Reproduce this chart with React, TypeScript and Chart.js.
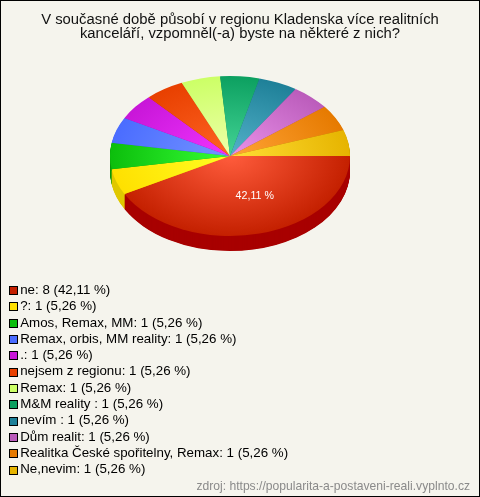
import React, { useEffect, useRef } from "react";
import { Chart, registerables } from "chart.js";

Chart.register(...registerables);

const titleLines = [
  "V současné době působí v regionu Kladenska více realitních",
  "kanceláří, vzpomněl(-a) byste na některé z nich?",
];
const sourceText = "zdroj: https://popularita-a-postaveni-reali.vyplnto.cz";
const categories = [
  "ne", "?", "Amos, Remax, MM", "Remax, orbis, MM reality", ".", "nejsem z regionu",
  "Remax", "M&M reality ", "nevím ", "Dům realit", "Realitka České spořitelny, Remax", "Ne,nevim",
];
const values = [8, 1, 1, 1, 1, 1, 1, 1, 1, 1, 1, 1];
const percents = ["42,11", "5,26", "5,26", "5,26", "5,26", "5,26", "5,26", "5,26", "5,26", "5,26", "5,26", "5,26"];
const edgeColors = [
  "#C42000", "#FFE000", "#0CBE0C", "#4A6CFF", "#C816D8", "#E84000",
  "#CCFF66", "#0CA060", "#1E8098", "#BB5CBB", "#E67A00", "#E6B400",
];
const innerColors = [
  "#FF5C3C", "#FFFF22", "#36FF36", "#7494FF", "#F034FF", "#FF6424",
  "#EEFFAA", "#44D496", "#54B2CA", "#EA92EA", "#FFA436", "#FFDE36",
];
const sideColors = [
  "#A80000", "#E0C800", "#0A9A0A", "#3A55CC", "#A012AC", "#BA3300",
  "#A3CC52", "#0A804D", "#18667A", "#964A96", "#B86200", "#B89000",
];

const PAGE_BG = "#F5F4ED";
const SQUASH = 2 / 3;
const DEPTH = 15;

const piePlugin = {
  id: "tiltedPie",
  beforeDraw(chart: any) {
    const { ctx, width, height } = chart;
    ctx.save();
    ctx.fillStyle = PAGE_BG;
    ctx.fillRect(0, 0, width, height);
    ctx.strokeStyle = "#000";
    ctx.lineWidth = 1;
    ctx.strokeRect(0.5, 0.5, width - 1, height - 1);
    ctx.restore();
  },
  afterLayout(chart: any) {
    const area = chart.chartArea;
    area.left = 110;
    area.right = 350;
    area.top = 36;
    area.bottom = 276;
    area.width = 240;
    area.height = 240;
    const legend = chart.legend;
    legend.left = 6.5;
    legend.top = 280.5;
    legend.right = 306.5;
    legend.bottom = 480.5;
    legend.adjustHitBoxes();
    const source = chart.boxes.find((b: any) => b.options && b.options.text === sourceText);
    if (source) {
      source.right = 470;
      source.top += 1;
      source.bottom += 1;
    }
  },
  beforeDatasetsDraw(chart: any) {
    const { ctx } = chart;
    const arcs = chart.getDatasetMeta(0).data;
    const cx = arcs[0].x;
    const cy = arcs[0].y;
    ctx.save();
    ctx.translate(cx, cy);
    ctx.scale(1, SQUASH);
    ctx.translate(-cx, -cy);
    for (let d = DEPTH; d >= 1; d -= 0.5) {
      arcs.forEach((arc: any, i: number) => {
        ctx.beginPath();
        ctx.moveTo(arc.x, arc.y + d / SQUASH);
        ctx.arc(arc.x, arc.y + d / SQUASH, arc.outerRadius, arc.startAngle, arc.endAngle);
        ctx.closePath();
        ctx.fillStyle = sideColors[i];
        ctx.fill();
      });
    }
  },
  afterDatasetsDraw(chart: any) {
    const { ctx } = chart;
    ctx.restore();
    const arcs = chart.getDatasetMeta(0).data;
    const total = values.reduce((a, b) => a + b, 0);
    ctx.save();
    ctx.fillStyle = "#FFFFFF";
    ctx.font = "10.67px 'Liberation Sans'";
    ctx.textAlign = "center";
    ctx.textBaseline = "middle";
    arcs.forEach((arc: any, i: number) => {
      if (values[i] / total < 0.1) return;
      const mid = (arc.startAngle + arc.endAngle) / 2;
      const r = arc.outerRadius / 2;
      const x = arc.x + Math.cos(mid) * r + 10;
      const y = arc.y + Math.sin(mid) * r * SQUASH + 1;
      ctx.fillText(`${percents[i]} %`, x, y);
    });
    ctx.restore();
  },
  afterDraw(chart: any) {
    const { ctx } = chart;
    const boxes = chart.legend.legendHitBoxes;
    ctx.save();
    ctx.strokeStyle = "#000";
    ctx.lineWidth = 1;
    boxes.forEach((box: any, i: number) => {
      const x = 9.5;
      const y = Math.round(box.top + 6.5 - 4) + 0.5;
      ctx.fillStyle = edgeColors[i];
      ctx.fillRect(x, y, 8, 8);
      ctx.strokeRect(x, y, 8, 8);
    });
    ctx.restore();
  },
};

export default function App() {
  const ref = useRef<HTMLCanvasElement>(null);
  useEffect(() => {
    document.body.style.margin = "0";
    const chart = new Chart(ref.current as HTMLCanvasElement, {
      type: "pie",
      data: {
        labels: categories,
        datasets: [
          {
            data: values,
            borderWidth: 0,
            backgroundColor: (c: any) => {
              const arcs = c.chart.chartArea;
              if (!arcs || c.dataIndex === undefined) return edgeColors[0];
              const cx = (arcs.left + arcs.right) / 2;
              const cy = (arcs.top + arcs.bottom) / 2;
              const g = c.chart.ctx.createRadialGradient(cx, cy, 0, cx, cy, 120);
              g.addColorStop(0, innerColors[c.dataIndex]);
              g.addColorStop(1, edgeColors[c.dataIndex]);
              return g;
            },
          },
        ],
      },
      options: {
        responsive: false,
        animation: false,
        rotation: 90,
        plugins: {
          tooltip: { enabled: false },
          title: {
            display: true,
            text: titleLines,
            color: "#111",
            font: { family: "'Liberation Sans'", size: 14.85, weight: "normal", lineHeight: 1 },
            padding: { top: 12, bottom: 3 },
          },
          subtitle: {
            display: true,
            text: sourceText,
            position: "bottom",
            align: "end",
            color: "#8A8A8A",
            font: { family: "'Liberation Sans'", size: 12.13, weight: "normal", lineHeight: 1 },
            padding: { top: 4, bottom: 5 },
          },
          legend: {
            position: "chartArea",
            align: "start",
            labels: {
              boxWidth: 4,
              boxHeight: 4,
              padding: 3,
              color: "#111",
              font: { family: "'Liberation Sans'", size: 13.33, lineHeight: 1 },
              generateLabels: () =>
                categories.map((name, i) => ({
                  text: `${name}: ${values[i]} (${percents[i]} %)`,
                  fillStyle: "transparent",
                  strokeStyle: "transparent",
                  lineWidth: 0,
                  index: i,
                  hidden: false,
                })),
            },
          },
        },
      },
      plugins: [piePlugin],
    } as any);
    return () => chart.destroy();
  }, []);
  return <canvas ref={ref} width={480} height={497} style={{ display: "block" }} />;
}
